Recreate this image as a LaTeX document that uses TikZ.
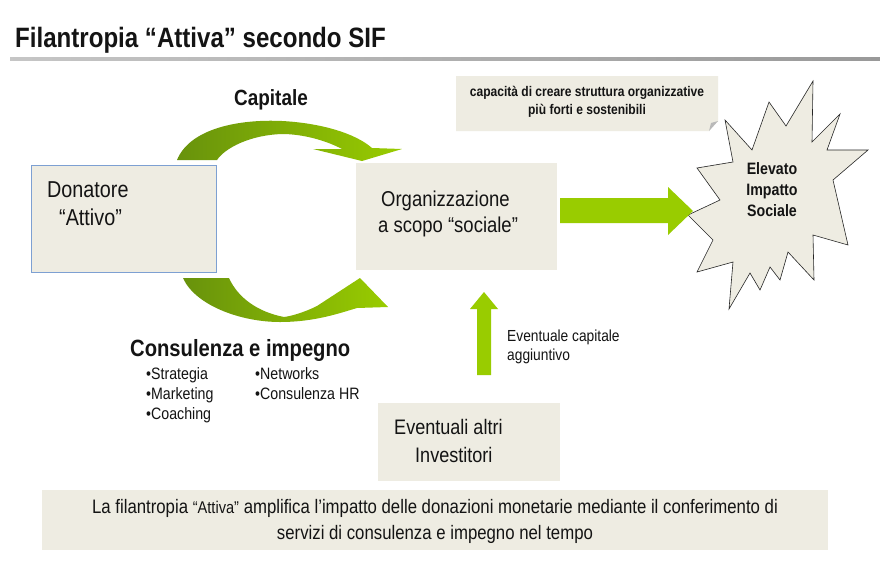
\documentclass[tikz,border=0pt]{standalone}
\usepackage{fontspec}
\setmainfont{Liberation Sans}[FakeStretch=0.86]
\definecolor{beige}{RGB}{238,236,226}
\definecolor{boxblue}{RGB}{125,160,210}
\definecolor{gdark}{RGB}{104,146,12}
\definecolor{glight}{RGB}{153,204,0}
\definecolor{txt}{RGB}{20,20,20}
\newcommand\fsz[2]{\fontsize{#1}{#2}\selectfont}
\begin{document}
\begin{tikzpicture}[x=1pt,y=-1pt,
  txtnode/.style={inner sep=0pt, text=txt},
  panel/.style={fill=beige, draw=none, inner sep=0pt, anchor=north west},
  greenarrow/.style={fill=glight, draw=none},
  ribbon/.style={left color=gdark, right color=glight, draw=none}]
\useasboundingbox (0,0) rectangle (880,584);
\fill[white] (0,0) rectangle (880,584);

% title
\node[txtnode, anchor=base west, font=\bfseries\fsz{28}{32}] (title) at (15,47) {Filantropia “Attiva” secondo SIF};
\shade[left color=gray!45, right color=gray!80] (10,57.5) rectangle (880,60);

% boxes
\node[panel, draw=boxblue, line width=0.7pt, minimum width=185pt, minimum height=107pt] (don) at (31,165) {};
\node[txtnode, anchor=base west, font=\fsz{23}{27}] (don1) at (47,197) {Donatore};
\node[txtnode, anchor=base west, font=\fsz{23}{27}] (don2) at (59,225) {“Attivo”};

\node[panel, minimum width=201pt, minimum height=107pt] (org) at (356,163) {};
\node[txtnode, anchor=base west, font=\fsz{21.5}{26}] (org1) at (381,206) {Organizzazione};
\node[txtnode, anchor=base west, font=\fsz{21.5}{26}] (org2) at (378,232) {a scopo “sociale”};

\node[panel, minimum width=182pt, minimum height=78pt] (inv) at (378,403) {};
\node[txtnode, anchor=base west, font=\fsz{21}{25}] (inv1) at (394,434) {Eventuali altri};
\node[txtnode, anchor=base west, font=\fsz{21}{25}] (inv2) at (415,462) {Investitori};

\node[panel, minimum width=786pt, minimum height=60pt] (bottom) at (42,490) {};
\node[txtnode, font=\fsz{19.5}{26}, align=center] (bottomtxt) at (435,521)
  {La filantropia {\fsz{17}{18}“Attiva”} amplifica l’impatto delle donazioni monetarie mediante il conferimento di\\servizi di consulenza e impegno nel tempo};

% callout
\fill[beige] (456,76) -- (718,76) -- (718,121) -- (709,131) -- (456,131) -- cycle;
\fill[gray!55] (718,121) -- (709,131) -- (711,123) -- cycle;
\node[txtnode, font=\bfseries\fsz{14}{18}, align=center] (callout) at (587,102)
  {capacità di creare struttura organizzative\\più forti e sostenibili};

% star
\filldraw[fill=beige, draw=black!85, line width=0.6pt]
  (725,120) -- (752,150) -- (769,102) -- (786,126) -- (813,81) -- (812,142)
  -- (840,114) -- (827,150) -- (868,150) -- (833,180) -- (848,245) -- (813,235)
  -- (814,280) -- (788,252) -- (780,280) -- (770,267) -- (760,290) -- (750,273)
  -- (729,309) -- (733,262) -- (697,272) -- (713,240) -- (688,215) -- (720,200)
  -- (697,168) -- (733,162) -- cycle;
\node[txtnode, font=\bfseries\fsz{16.5}{21}, align=center] (star) at (772,190)
  {Elevato\\Impatto\\Sociale};

% straight arrows
\fill[greenarrow] (560,198) -- (668,198) -- (668,187) -- (693,211) -- (668,235) -- (668,223) -- (560,223) -- cycle;
\fill[greenarrow] (477,375) -- (477,309) -- (470,309) -- (484,292) -- (498,309) -- (491,309) -- (491,375) -- cycle;
\node[txtnode, anchor=base west, font=\fsz{16}{20}] (ev1) at (507,341) {Eventuale capitale};
\node[txtnode, anchor=base west, font=\fsz{16}{20}] (ev2) at (507,360) {aggiuntivo};

% curved ribbons
\shade[ribbon] (177,160) .. controls (190,128) and (240,119) .. (282,121)
  .. controls (320,123) and (355,133) .. (372,148) -- (402,149) -- (362,161) -- (313,149) -- (342,149)
  .. controls (325,140) and (302,134) .. (282,134)
  .. controls (250,135) and (225,148) .. (217,160) -- cycle;
\shade[ribbon] (183,278) .. controls (195,305) and (240,322) .. (280,322)
  .. controls (315,322) and (340,313) .. (357,308) -- (388,307) -- (360,278) -- (317,306)
  .. controls (305,312) and (292,316) .. (284,317)
  .. controls (258,312) and (238,298) .. (229,278) -- cycle;

\node[txtnode, font=\bfseries\fsz{22}{26}] (cap) at (271,100) {Capitale};
\node[txtnode, anchor=base west, font=\bfseries\fsz{23.5}{28}] (cons) at (130,356) {Consulenza e impegno};

% bullets
\node[txtnode, anchor=base west, font=\fsz{16.5}{20}] (b1) at (146,379) {•Strategia};
\node[txtnode, anchor=base west, font=\fsz{16.5}{20}] (b2) at (146,399) {•Marketing};
\node[txtnode, anchor=base west, font=\fsz{16.5}{20}] (b3) at (146,419) {•Coaching};
\node[txtnode, anchor=base west, font=\fsz{16.5}{20}] (b4) at (255,379) {•Networks};
\node[txtnode, anchor=base west, font=\fsz{16.5}{20}] (b5) at (255,399) {•Consulenza HR};
\end{tikzpicture}
\end{document}
